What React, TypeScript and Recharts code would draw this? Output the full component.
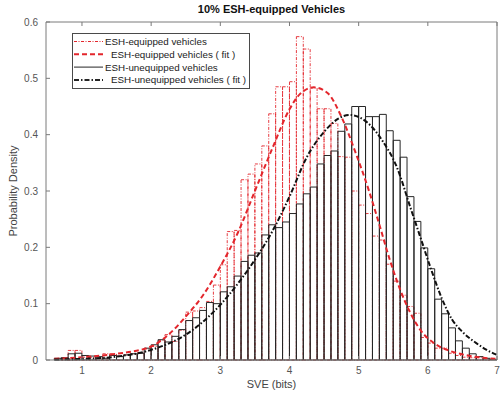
import { ComposedChart, Bar, Line, XAxis, YAxis } from 'recharts'

// histogram bins (width 0.1 bits), densities per bin
const binCenters = [
  0.65, 0.75, 0.85, 0.95, 1.05, 1.15, 1.25, 1.35, 1.45, 1.55,
  1.65, 1.75, 1.85, 1.95, 2.05, 2.15, 2.25, 2.35, 2.45, 2.55,
  2.65, 2.75, 2.85, 2.95, 3.05, 3.15, 3.25, 3.35, 3.45, 3.55,
  3.65, 3.75, 3.85, 3.95, 4.05, 4.15, 4.25, 4.35, 4.45, 4.55,
  4.65, 4.75, 4.85, 4.95, 5.05, 5.15, 5.25, 5.35, 5.45, 5.55,
  5.65, 5.75, 5.85, 5.95, 6.05, 6.15, 6.25, 6.35, 6.45, 6.55,
  6.65, 6.75, 6.85, 6.95,
]
const unequippedDensity = [
  0.003, 0.004, 0.011, 0.012, 0.008, 0.007, 0.006, 0.003, 0.008, 0.006,
  0.009, 0.011, 0.012, 0.021, 0.027, 0.036, 0.032, 0.042, 0.054, 0.07,
  0.075, 0.088, 0.102, 0.1, 0.121, 0.13, 0.149, 0.175, 0.186, 0.19,
  0.222, 0.24, 0.235, 0.245, 0.26, 0.277, 0.295, 0.307, 0.348, 0.363,
  0.371, 0.406, 0.419, 0.45, 0.45, 0.432, 0.432, 0.436, 0.407, 0.39,
  0.36, 0.29, 0.246, 0.199, 0.162, 0.108, 0.082, 0.057, 0.034, 0.021,
  0.011, 0.006, 0.003, 0.001,
]
const equippedDensity = [
  0, 0.004, 0.017, 0.017, 0.005, 0.004, 0.003, 0.011, 0.011, 0.007,
  0.009, 0.011, 0.013, 0.02, 0.024, 0.035, 0.045, 0.033, 0.053, 0.085,
  0.087, 0.093, 0.104, 0.133, 0.169, 0.228, 0.23, 0.32, 0.33, 0.348,
  0.38, 0.437, 0.485, 0.485, 0.494, 0.574, 0.552, 0.483, 0.446, 0.446,
  0.42, 0.361, 0.36, 0.3, 0.275, 0.26, 0.22, 0.213, 0.17, 0.14,
  0.115, 0.095, 0.083, 0.04, 0.03, 0.021, 0.021, 0.012, 0.008, 0.005,
  0.004, 0.004, 0.002, 0,
]

// fitted density curves
const equippedFitX = [0.6, 1.0, 1.5, 2.0, 2.25, 2.5, 2.75, 3.0, 3.25, 3.5, 3.75, 4.0, 4.15, 4.35, 4.55, 4.75, 4.95, 5.15, 5.3, 5.45, 5.6, 5.75, 5.9, 6.1, 6.3, 6.5, 6.8, 7.0]
const equippedFitY = [0.002, 0.005, 0.011, 0.024, 0.045, 0.077, 0.115, 0.166, 0.225, 0.3, 0.375, 0.445, 0.472, 0.484, 0.474, 0.432, 0.37, 0.3, 0.24, 0.178, 0.125, 0.083, 0.052, 0.029, 0.017, 0.01, 0.004, 0.002]
const unequippedFitX = [0.6, 1.0, 1.5, 2.0, 2.5, 2.75, 3.0, 3.25, 3.5, 3.75, 4.0, 4.25, 4.5, 4.7, 4.87, 5.1, 5.35, 5.55, 5.75, 5.9, 6.05, 6.2, 6.35, 6.5, 6.7, 6.85, 7.0]
const unequippedFitY = [0.001, 0.002, 0.006, 0.018, 0.045, 0.068, 0.098, 0.135, 0.178, 0.228, 0.29, 0.36, 0.405, 0.428, 0.435, 0.424, 0.388, 0.343, 0.27, 0.215, 0.16, 0.11, 0.072, 0.05, 0.03, 0.018, 0.009]

const xTicks = [1, 2, 3, 4, 5, 6, 7]
const yTicks = [0, 0.1, 0.2, 0.3, 0.4, 0.5, 0.6]

const bins = binCenters.map((x, i) => ({ x, unequipped: unequippedDensity[i], equipped: equippedDensity[i] }))
const equippedFit = equippedFitX.map((x, i) => ({ x, y: equippedFitY[i] }))
const unequippedFit = unequippedFitX.map((x, i) => ({ x, y: unequippedFitY[i] }))

const W = 501
const H = 397
// plot box: x 46..497, y 22..360
const PLOT = { left: 46, top: 22, right: 497, bottom: 360 }
const xDomain: [number, number] = [0.48, 7]
const plotW = PLOT.right - PLOT.left
const binPx = (0.1 * plotW) / (xDomain[1] - xDomain[0])
const barSize = binPx - 0.05

const FONT = '"Liberation Sans", Arial, Helvetica, sans-serif'
const AXIS = '#7a7a7a'
const TICK_TEXT = '#555'
const RED = '#e3262c'
const DARK = '#262626'

const tickStyle = { fontSize: 10, fill: TICK_TEXT, fontFamily: FONT }

const legendRows = [
  { label: 'ESH-equipped vehicles', stroke: RED, width: 1, dash: '3 1.5 1 1.5', indent: 0 },
  { label: 'ESH-equipped vehicles ( fit )', stroke: RED, width: 2, dash: '5 3', indent: 6 },
  { label: 'ESH-unequipped vehicles', stroke: DARK, width: 1, dash: undefined, indent: 0 },
  { label: 'ESH-unequipped vehicles ( fit )', stroke: DARK, width: 2, dash: '5 2 1.5 2', indent: 6 },
]

// boxed legend in the upper-left corner of the axes
function LegendBox() {
  return (
    <svg width={178} height={56} style={{ position: 'absolute', left: 72, top: 33, fontFamily: FONT }}>
      <rect x={0.5} y={0.5} width={177} height={55} fill="#fff" stroke="#4a4a4a" strokeWidth={1} />
      {legendRows.map((r, i) => {
        const cy = 8.5 + i * 12.8
        return (
          <g key={r.label}>
            <line x1={2} y1={cy} x2={31} y2={cy} stroke={r.stroke} strokeWidth={r.width} strokeDasharray={r.dash} />
            <text x={33 + r.indent} y={cy + 3.5} fontSize={9.8} fill="#222">{r.label}</text>
          </g>
        )
      })}
    </svg>
  )
}

export default function App() {
  return (
    <div style={{ position: 'absolute', left: 0, top: 0, width: W, height: H, background: '#fff', fontFamily: FONT }}>
      <ComposedChart width={W} height={H} data={bins} margin={{ top: 0, right: 0, bottom: 0, left: 0 }}>
        <XAxis xAxisId="bottom" type="number" dataKey="x" domain={xDomain} allowDataOverflow ticks={xTicks}
          height={H - PLOT.bottom} stroke={AXIS} tickSize={-4} tickMargin={11} tick={tickStyle} />
        <XAxis xAxisId="top" orientation="top" type="number" dataKey="x" domain={xDomain} allowDataOverflow ticks={xTicks}
          height={PLOT.top} stroke={AXIS} tickSize={-4} tickFormatter={() => ''} />
        {/* one hidden axis per histogram, so the bins overlap instead of grouping side by side */}
        <XAxis xAxisId="bins1" type="number" dataKey="x" domain={xDomain} allowDataOverflow hide height={0} />
        <XAxis xAxisId="bins2" type="number" dataKey="x" domain={xDomain} allowDataOverflow hide height={0} />
        <YAxis yAxisId="left" type="number" domain={[0, 0.6]} ticks={yTicks} width={PLOT.left} stroke={AXIS}
          tickSize={-4} tickMargin={12} tick={tickStyle} />
        <YAxis yAxisId="right" orientation="right" type="number" domain={[0, 0.6]} ticks={yTicks} width={W - PLOT.right}
          stroke={AXIS} tickSize={-4} tickFormatter={() => ''} />

        <Bar xAxisId="bins2" yAxisId="left" dataKey="equipped" barSize={barSize} fill="none" stroke={RED}
          strokeWidth={0.9} strokeDasharray="3 1.5 1 1.5" isAnimationActive={false} />
        <Bar xAxisId="bins1" yAxisId="left" dataKey="unequipped" barSize={barSize} fill="none" stroke={DARK}
          strokeWidth={1} isAnimationActive={false} />

        <Line xAxisId="bottom" yAxisId="left" data={equippedFit} dataKey="y" type="monotone" stroke={RED}
          strokeWidth={2} strokeDasharray="5 3" dot={false} isAnimationActive={false} />
        <Line xAxisId="bottom" yAxisId="left" data={unequippedFit} dataKey="y" type="monotone" stroke="#111"
          strokeWidth={2} strokeDasharray="5 2 1.5 2" dot={false} isAnimationActive={false} />
      </ComposedChart>

      <LegendBox />

      <div style={{ position: 'absolute', top: 3, left: PLOT.left, width: plotW, textAlign: 'center', fontSize: 11, fontWeight: 'bold', color: '#111' }}>
        10% ESH-equipped Vehicles
      </div>
      <div style={{ position: 'absolute', left: 13, top: 191, transform: 'translate(-50%, -50%) rotate(-90deg)', whiteSpace: 'nowrap', fontSize: 11, color: '#444' }}>
        Probability Density
      </div>
      <div style={{ position: 'absolute', top: 378, left: PLOT.left, width: plotW, textAlign: 'center', fontSize: 11, color: '#444' }}>
        SVE (bits)
      </div>
    </div>
  )
}
